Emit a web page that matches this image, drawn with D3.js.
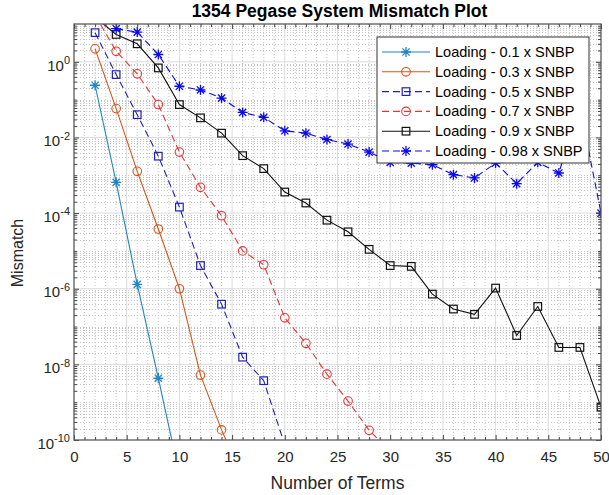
<!DOCTYPE html>
<html><head><meta charset="utf-8">
<script src="https://cdn.jsdelivr.net/npm/d3@7"></script>
<style>body{margin:0;background:#fff} text{font-family:"Liberation Sans",Arial,Helvetica,sans-serif}</style>
</head><body><svg id="c" width="609" height="495"></svg>
<script>
// ---------- data ----------
const terms = [2,4,6,8,10,12,14,16,18,20,22,24,26,28,30,32,34,36,38,40,42,44,46,48,50];
const load01 = [0.24, 6.5e-4, 1.3e-6, 4.3e-9, 1.2e-11];
const load03 = [2.2, 0.058, 1.27e-3, 3.8e-5, 1.0e-6, 5.2e-9, 1.85e-10, 1e-11];
const load05 = [5.9, 0.46, 0.040, 3.2e-3, 1.44e-4, 4.1e-6, 3.9e-7, 1.55e-8, 3.7e-9, 7.4e-11];
const load07 = [17, 1.9, 0.48, 0.074, 4.1e-3, 4.8e-4, 8.5e-5, 1.0e-5, 4.3e-6, 1.7e-7, 3.6e-8, 5.5e-9, 1.07e-9, 1.8e-10, 5e-11];
const load09 = [15, 5.3, 3.0, 0.69, 0.074, 0.033, 0.013, 3.3e-3, 1.5e-3, 3.6e-4, 1.85e-4, 6.5e-5, 3.2e-5, 1.1e-5, 4.1e-6, 3.9e-6, 7.2e-7, 2.9e-7, 2.1e-7, 1.04e-6, 5.8e-8, 3.4e-7, 2.8e-8, 2.8e-8, 7.4e-10];
const load098 = [null, 7.5, 6.1, 1.56, 0.226, 0.18, 0.11, 0.046, 0.034, 0.015, 0.013, 8.8e-3, 6.7e-3, 4.1e-3, 2.2e-3, 2.1e-3, 1.9e-3, 1.04e-3, 8.5e-4, 2.1e-3, 6.0e-4, 2.2e-3, 1.15e-3, 0.066, 1.0e-4];
const seriesNames = ["Loading - 0.1 x SNBP","Loading - 0.3 x SNBP","Loading - 0.5 x SNBP","Loading - 0.7 x SNBP","Loading - 0.9 x SNBP","Loading - 0.98 x SNBP"];
const xTicks = [0,5,10,15,20,25,30,35,40,45,50];
const yTickExps = [0,-2,-4,-6,-8,-10];
const titleText = "1354 Pegase System Mismatch Plot";
const xLabel = "Number of Terms";
const yLabel = "Mismatch";

// ---------- styles ----------
const styles = [
  {color:"#1f86c6", dash:null, marker:"star"},
  {color:"#D95319", dash:null, marker:"circle"},
  {color:"#2020b8", dash:"7,4", marker:"square"},
  {color:"#ea3434", dash:"7,4", marker:"circle"},
  {color:"#111111", dash:null, marker:"square"},
  {color:"#0a0aee", dash:"7,4", marker:"star"}
];
const allSeries = [load01, load03, load05, load07, load09, load098];

const L=74, R=601, T=24, B=440;
const svg = d3.select("#c");
const x = d3.scaleLinear().domain([0,50]).range([L,R]);
const y = d3.scaleLog().domain([1e-10,10]).range([B,T]);

svg.append("rect").attr("x",L).attr("y",T).attr("width",R-L).attr("height",B-T).attr("fill","#fff");

// grid
const grid = svg.append("g");
const minorX = d3.range(1,50).filter(v=>v%5!==0);
grid.selectAll(".mx").data(minorX).join("line")
  .attr("x1",d=>x(d)).attr("x2",d=>x(d)).attr("y1",T).attr("y2",B)
  .attr("stroke","#c4c4c4").attr("stroke-width",1).attr("stroke-dasharray","1,2");
const minorY = [];
for (let n=-10;n<=0;n++) for (let k=1;k<=9;k++){ const v=k*Math.pow(10,n); if(!(k===1 && n%2===0)) minorY.push(v);}
grid.selectAll(".my").data(minorY).join("line")
  .attr("x1",L).attr("x2",R).attr("y1",d=>Math.round(y(d))+0.5).attr("y2",d=>Math.round(y(d))+0.5)
  .attr("stroke","#c4c4c4").attr("stroke-width",1).attr("stroke-dasharray","1,2");
grid.selectAll(".gx").data(xTicks.slice(1,-1)).join("line")
  .attr("x1",d=>x(d)).attr("x2",d=>x(d)).attr("y1",T).attr("y2",B)
  .attr("stroke","#dcdcdc").attr("stroke-width",1);
grid.selectAll(".gy").data(yTickExps.slice(0,-1).map(e=>Math.pow(10,e))).join("line")
  .attr("x1",L).attr("x2",R).attr("y1",d=>y(d)).attr("y2",d=>y(d))
  .attr("stroke","#dcdcdc").attr("stroke-width",1);

// clip
svg.append("clipPath").attr("id","clip").append("rect").attr("x",L).attr("y",T).attr("width",R-L).attr("height",B-T);
const plot = svg.append("g").attr("clip-path","url(#clip)");

function drawMarker(g, type, cx, cy, color){
  if(type==="circle"){
    g.append("circle").attr("cx",cx).attr("cy",cy).attr("r",4.3).attr("fill","none").attr("stroke",color).attr("stroke-width",1.1);
  } else if(type==="square"){
    g.append("rect").attr("x",cx-3.8).attr("y",cy-3.8).attr("width",7.6).attr("height",7.6).attr("fill","none").attr("stroke",color).attr("stroke-width",1.2);
  } else {
    const r=5, d=3.6;
    g.append("path").attr("d",`M${cx-r},${cy}L${cx+r},${cy}M${cx},${cy-r}L${cx},${cy+r}M${cx-d},${cy-d}L${cx+d},${cy+d}M${cx-d},${cy+d}L${cx+d},${cy-d}`)
      .attr("stroke",color).attr("stroke-width",1.3).attr("fill","none");
  }
}

const line = d3.line().defined(d=>d.v!==null).x(d=>x(d.t)).y(d=>y(d.v));
allSeries.forEach((vals,i)=>{
  const st = styles[i];
  const pts = vals.map((v,j)=>({t:terms[j], v:v}));
  plot.append("path").datum(pts).attr("d",line).attr("fill","none")
    .attr("stroke",st.color).attr("stroke-width",1.1).attr("stroke-dasharray",st.dash);
  const mg = plot.append("g");
  pts.filter(p=>p.v!==null && p.v>=1e-10 && p.v<=10).forEach(p=>drawMarker(mg, st.marker, x(p.t), y(p.v), st.color));
});

// axes
const axCol = "#262626";
const xb = svg.append("g").attr("transform",`translate(0,${B})`)
  .call(d3.axisBottom(x).tickValues(xTicks).tickSize(-5).tickPadding(11).tickFormat(d3.format("d")));
const xt = svg.append("g").attr("transform",`translate(0,${T})`)
  .call(d3.axisTop(x).tickValues(xTicks).tickSize(-5).tickFormat(""));
const xbm = svg.append("g").attr("transform",`translate(0,${B})`)
  .call(d3.axisBottom(x).tickValues(minorX).tickSize(-3).tickFormat(""));
const xtm = svg.append("g").attr("transform",`translate(0,${T})`)
  .call(d3.axisTop(x).tickValues(minorX).tickSize(-3).tickFormat(""));
const majY = yTickExps.map(e=>Math.pow(10,e));
const yl = svg.append("g").attr("transform",`translate(${L},0)`)
  .call(d3.axisLeft(y).tickValues(majY).tickSize(-5).tickPadding(6).tickFormat(""));
const yr = svg.append("g").attr("transform",`translate(${R},0)`)
  .call(d3.axisRight(y).tickValues(majY).tickSize(-5).tickFormat(""));
const ylm = svg.append("g").attr("transform",`translate(${L},0)`)
  .call(d3.axisLeft(y).tickValues(minorY).tickSize(-3).tickFormat(""));
const yrm = svg.append("g").attr("transform",`translate(${R},0)`)
  .call(d3.axisRight(y).tickValues(minorY).tickSize(-3).tickFormat(""));
[xb,xt,xbm,xtm,yl,yr,ylm,yrm].forEach(g=>{
  g.select(".domain").remove();
  g.selectAll("line").attr("stroke","#444").attr("stroke-width",1);
});
xb.selectAll("text").attr("fill",axCol).style("font-size","15px");
yl.selectAll(".tick").each(function(d){
  const t = d3.select(this).select("text");
  t.text(null).attr("fill",axCol).style("font-size","15px").attr("x",-4).attr("dy","0.55em");
  t.append("tspan").text("10");
  t.append("tspan").attr("dy","-0.6em").style("font-size","11px").text(String(Math.round(Math.log10(d))));
});
svg.append("rect").attr("x",L).attr("y",T).attr("width",R-L).attr("height",B-T)
  .attr("fill","none").attr("stroke","#5a5a5a").attr("stroke-width",1.3);

// labels
svg.append("text").attr("x",(L+R)/2+2).attr("y",17).attr("text-anchor","middle")
  .style("font-size","17.5px").style("font-weight","bold").attr("fill","#000").text(titleText);
svg.append("text").attr("x",(L+R)/2).attr("y",489).attr("text-anchor","middle")
  .style("font-size","17.5px").attr("fill",axCol).text(xLabel);
svg.append("text").attr("transform",`translate(23,253) rotate(-90)`).attr("text-anchor","middle")
  .style("font-size","16px").attr("fill",axCol).text(yLabel);

// legend
const lg = svg.append("g");
lg.append("rect").attr("x",377).attr("y",37).attr("width",212).attr("height",126)
  .attr("fill","#fff").attr("stroke","#333").attr("stroke-width",1);
seriesNames.forEach((name,i)=>{
  const st = styles[i];
  const ry = 52 + i*19.8;
  lg.append("line").attr("x1",382).attr("x2",430).attr("y1",ry).attr("y2",ry)
    .attr("stroke",st.color).attr("stroke-width",1.1).attr("stroke-dasharray",st.dash);
  drawMarker(lg, st.marker, 406, ry, st.color);
  lg.append("text").attr("x",435).attr("y",ry+5).style("font-size","14.5px").attr("fill","#000").text(name);
});
</script></body></html>
